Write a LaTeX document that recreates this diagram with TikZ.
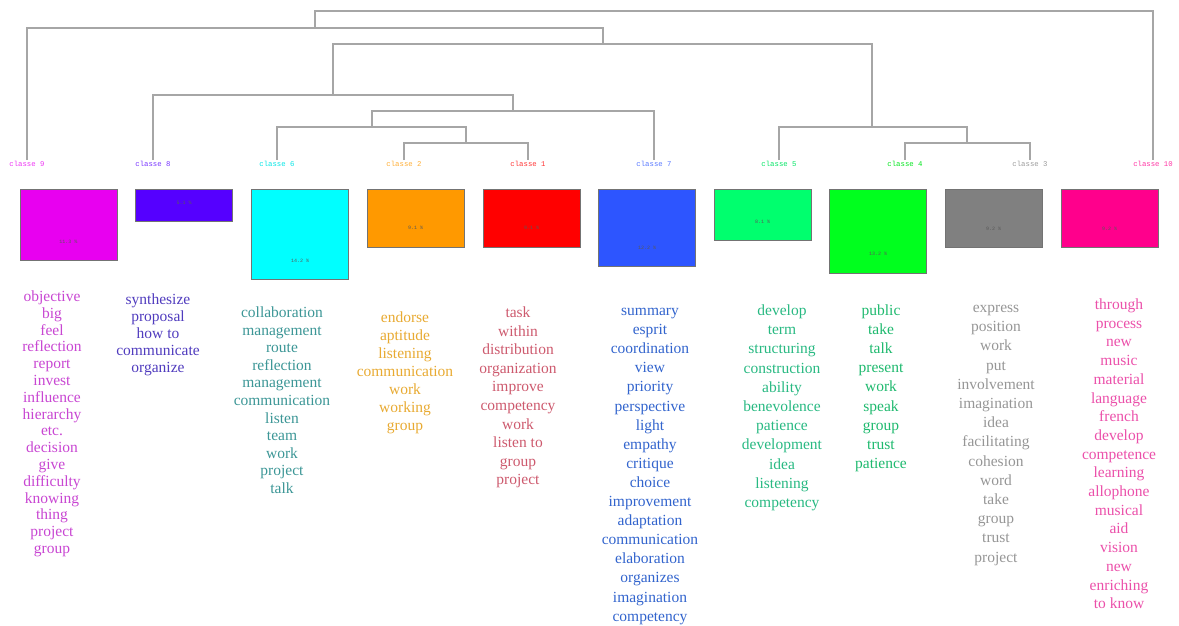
\documentclass[tikz,border=0pt]{standalone}
\usepackage{fontspec}
\setmainfont{Liberation Serif}
\newfontfamily\monofont{Liberation Mono}
% couleurs des classes
\definecolor{c9}{RGB}{232,0,240}
\definecolor{c8}{RGB}{85,0,255}
\definecolor{c6}{RGB}{0,255,255}
\definecolor{c2}{RGB}{255,153,0}
\definecolor{c1}{RGB}{255,0,0}
\definecolor{c7}{RGB}{45,85,255}
\definecolor{c5}{RGB}{0,255,110}
\definecolor{c4}{RGB}{0,255,30}
\definecolor{c3}{RGB}{128,128,128}
\definecolor{c10}{RGB}{255,0,140}
% couleurs des mots
\definecolor{t9}{RGB}{200,70,210}
\definecolor{t8}{RGB}{80,60,190}
\definecolor{t6}{RGB}{60,150,150}
\definecolor{t2}{RGB}{232,170,50}
\definecolor{t1}{RGB}{205,90,110}
\definecolor{t7}{RGB}{50,100,205}
\definecolor{t5}{RGB}{40,185,130}
\definecolor{t4}{RGB}{30,185,110}
\definecolor{t3}{RGB}{150,150,150}
\definecolor{t10}{RGB}{235,80,170}
\tikzset{
  tree/.style={draw=gray!70,line width=1.3pt},
  classlab/.style={font=\monofont\fontsize{7.3}{8}\selectfont,inner sep=1pt},
  classbox/.style={draw=black!55,line width=0.6pt,minimum width=97pt,anchor=north,inner sep=0pt},
  pct/.style={font=\monofont\fontsize{5}{6}\selectfont,text=black!65,inner sep=0pt},
  word/.style={font=\fontsize{15.5}{17}\selectfont,anchor=base,inner sep=0pt}
}
\begin{document}
\begin{tikzpicture}[x=1pt,y=-1pt,line join=miter]
\useasboundingbox (0,0) rectangle (1179,625);
%% Boîtes des classes
\node[classbox,fill=c9,minimum height=71pt] (b9) at (68.5,189) {};
\node[classbox,fill=c8,minimum height=32pt] (b8) at (184,189) {};
\node[classbox,fill=c6,minimum height=90pt] (b6) at (300,189) {};
\node[classbox,fill=c2,minimum height=57.5pt] (b2) at (415.5,189) {};
\node[classbox,fill=c1,minimum height=57.5pt] (b1) at (531.5,189) {};
\node[classbox,fill=c7,minimum height=77pt] (b7) at (647,189) {};
\node[classbox,fill=c5,minimum height=51pt] (b5) at (762.5,189) {};
\node[classbox,fill=c4,minimum height=83.5pt] (b4) at (878,189) {};
\node[classbox,fill=c3,minimum height=58pt] (b3) at (993.5,189) {};
\node[classbox,fill=c10,minimum height=58pt] (b10) at (1109.5,189) {};
%% Pourcentages
\node[pct] (p9) at ([yshift=19pt]b9.south) {11.3 \%};
\node[pct] (p8) at ([yshift=19pt]b8.south) {5.1 \%};
\node[pct] (p6) at ([yshift=19pt]b6.south) {14.2 \%};
\node[pct] (p2) at ([yshift=19pt]b2.south) {9.1 \%};
\node[pct] (p1) at ([yshift=19pt]b1.south) {9.1 \%};
\node[pct] (p7) at ([yshift=19pt]b7.south) {12.2 \%};
\node[pct] (p5) at ([yshift=19pt]b5.south) {8.1 \%};
\node[pct] (p4) at ([yshift=19pt]b4.south) {13.2 \%};
\node[pct] (p3) at ([yshift=19pt]b3.south) {9.2 \%};
\node[pct] (p10) at ([yshift=19pt]b10.south) {9.2 \%};
%% Étiquettes
\node[classlab,text=c9!80] (l9) at (27,164) {classe 9};
\node[classlab,text=c8!80] (l8) at (153,164) {classe 8};
\node[classlab,text=c6!90!black] (l6) at (277,164) {classe 6};
\node[classlab,text=c2!80] (l2) at (404,164) {classe 2};
\node[classlab,text=c1!80] (l1) at (528,164) {classe 1};
\node[classlab,text=c7!80] (l7) at (654,164) {classe 7};
\node[classlab,text=c5!90!black] (l5) at (779,164) {classe 5};
\node[classlab,text=c4!90!black] (l4) at (905,164) {classe 4};
\node[classlab,text=c3!80] (l3) at (1030,164) {classe 3};
\node[classlab,text=c10!80] (l10) at (1153,164) {classe 10};
%% Dendrogramme
\coordinate (m21) at (466,143);
\coordinate (m621) at (372,127);
\coordinate (m7) at (513,111);
\coordinate (m8) at (333,95);
\coordinate (m43) at (967,143);
\coordinate (m5) at (872,127);
\coordinate (mid) at (603,44);
\coordinate (m9) at (315,28);
\coordinate (top) at (734,11);
\draw[tree] (l2.north) |- (m21) -| (l1.north);
\draw[tree] (l6.north) |- (m621) -| (m21);
\draw[tree] (m621) |- (m7) -| (l7.north);
\draw[tree] (l8.north) |- (m8) -| (m7);
\draw[tree] (l4.north) |- (m43) -| (l3.north);
\draw[tree] (l5.north) |- (m5) -| (m43);
\draw[tree] (m8) |- (mid) -| (m5);
\draw[tree] (l9.north) |- (m9) -| (mid);
\draw[tree] (m9) |- (top) -| (l10.north);
%% Mots
\foreach \w [count=\i from 0] in {objective,big,feel,reflection,report,invest,influence,hierarchy,etc.,decision,give,difficulty,knowing,thing,project,group}
\node[word,text=t9] (w9-\i) at (52,301.5+16.8*\i) {\w};
\foreach \w [count=\i from 0] in {synthesize,proposal,how to,communicate,organize}
\node[word,text=t8] (w8-\i) at (158,304.5+17*\i) {\w};
\foreach \w [count=\i from 0] in {collaboration,management,route,reflection,management,communication,listen,team,work,project,talk}
\node[word,text=t6] (w6-\i) at (282,317.5+17.6*\i) {\w};
\foreach \w [count=\i from 0] in {endorse,aptitude,listening,communication,work,working,group}
\node[word,text=t2] (w2-\i) at (405,322.5+18*\i) {\w};
\foreach \w [count=\i from 0] in {task,within,distribution,organization,improve,competency,work,listen to,group,project}
\node[word,text=t1] (w1-\i) at (518,317.5+18.6*\i) {\w};
\foreach \w [count=\i from 0] in {summary,esprit,coordination,view,priority,perspective,light,empathy,critique,choice,improvement,adaptation,communication,elaboration,organizes,imagination,competency}
\node[word,text=t7] (w7-\i) at (650,315.5+19.1*\i) {\w};
\foreach \w [count=\i from 0] in {develop,term,structuring,construction,ability,benevolence,patience,development,idea,listening,competency}
\node[word,text=t5] (w5-\i) at (782,315.5+19.2*\i) {\w};
\foreach \w [count=\i from 0] in {public,take,talk,present,work,speak,group,trust,patience}
\node[word,text=t4] (w4-\i) at (881,315.5+19.1*\i) {\w};
\foreach \w [count=\i from 0] in {express,position,work,put,involvement,imagination,idea,facilitating,cohesion,word,take,group,trust,project}
\node[word,text=t3] (w3-\i) at (996,312.5+19.2*\i) {\w};
\foreach \w [count=\i from 0] in {through,process,new,music,material,language,french,develop,competence,learning,allophone,musical,aid,vision,new,enriching,to know}
\node[word,text=t10] (w10-\i) at (1119,309.5+18.7*\i) {\w};
\end{tikzpicture}
\end{document}
